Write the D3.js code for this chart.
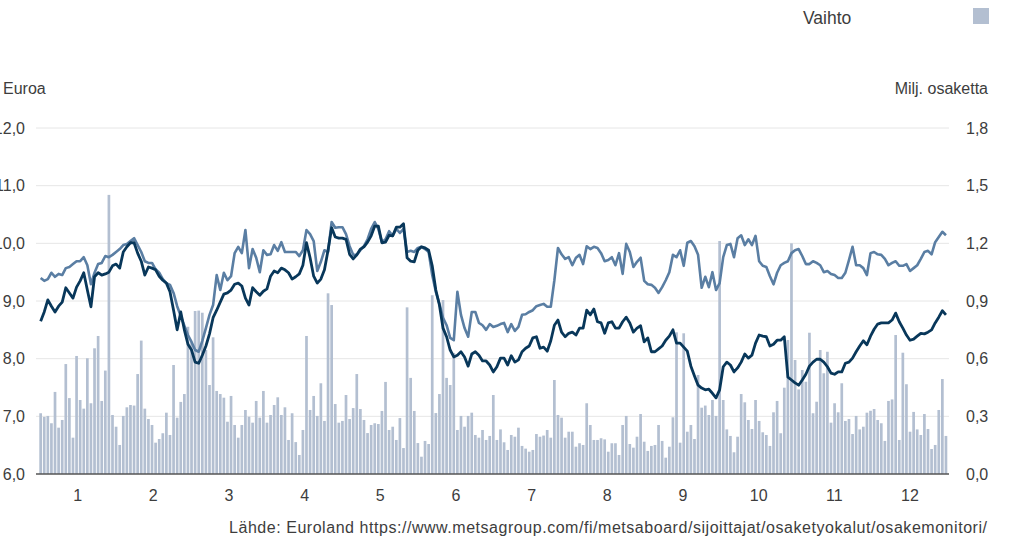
<!DOCTYPE html>
<html>
<head>
<meta charset="utf-8">
<script src="https://cdn.jsdelivr.net/npm/d3@7"></script>
<style>
  html, body { margin: 0; padding: 0; background: #fff; }
  svg { display: block; font-family: "Liberation Sans", Arial, sans-serif; }
</style>
</head>
<body>
<svg id="chart" width="1020" height="543"></svg>
<script>
// Daily closing prices (EUR), two share series
const priceB = [
  8.65,8.81,9.02,8.91,8.81,8.91,8.98,9.23,9.14,9.05,
  9.24,9.35,9.49,9.19,8.90,9.42,9.49,9.45,9.47,9.50,
  9.61,9.64,9.57,9.85,9.94,10.01,10.01,9.83,9.69,9.45,
  9.59,9.57,9.54,9.43,9.36,9.31,9.16,8.84,8.50,8.81,
  8.50,8.25,8.15,7.94,7.92,8.06,8.22,8.43,8.71,8.84,
  8.98,9.12,9.14,9.19,9.29,9.31,9.26,9.05,8.93,9.23,
  9.16,9.10,9.17,9.21,9.43,9.52,9.49,9.57,9.54,9.49,
  9.38,9.42,9.47,9.62,10.01,9.75,9.43,9.31,9.38,9.54,
  9.88,10.27,10.11,10.09,10.09,10.07,9.81,9.73,9.80,9.90,
  9.94,10.02,10.13,10.30,10.30,10.01,10.02,10.14,10.13,10.28,
  10.28,10.34,9.75,9.69,9.68,9.88,9.94,9.92,9.88,9.61,
  9.19,8.93,8.53,8.38,8.15,8.03,8.06,8.12,8.03,7.87,
  8.08,8.12,8.06,7.96,7.96,7.89,7.77,7.86,8.01,8.01,
  7.89,8.05,7.94,7.98,8.12,8.18,8.22,8.36,8.38,8.18,
  8.20,8.13,8.31,8.58,8.67,8.46,8.38,8.44,8.46,8.41,
  8.53,8.53,8.84,8.76,8.86,8.64,8.62,8.44,8.62,8.64,
  8.53,8.53,8.64,8.72,8.62,8.46,8.53,8.57,8.29,8.36,
  8.12,8.12,8.17,8.22,8.32,8.39,8.50,8.27,8.27,8.20,
  8.13,7.87,7.70,7.54,7.49,7.46,7.47,7.40,7.32,7.46,
  7.86,7.94,7.89,7.77,7.84,7.94,8.08,8.01,8.06,8.27,
  8.41,8.39,8.38,8.22,8.25,8.32,8.32,8.38,7.68,7.63,
  7.58,7.54,7.63,7.73,7.87,7.94,7.99,7.99,7.94,7.86,
  7.75,7.73,7.77,7.77,7.92,7.94,8.01,8.12,8.22,8.31,
  8.24,8.39,8.51,8.60,8.62,8.62,8.62,8.67,8.79,8.64,
  8.53,8.41,8.32,8.34,8.39,8.44,8.43,8.46,8.50,8.62,
  8.72,8.83,8.76
];

const priceA = [
  9.40,9.35,9.38,9.49,9.42,9.47,9.45,9.57,9.59,9.64,
  9.69,9.69,9.76,9.62,9.29,9.49,9.64,9.66,9.78,9.76,
  9.80,9.85,9.90,9.97,9.99,10.04,10.09,9.97,9.85,9.69,
  9.66,9.66,9.55,9.49,9.38,9.31,9.28,9.14,8.91,8.74,
  8.57,8.41,8.29,8.15,8.12,8.31,8.53,8.76,8.93,9.45,
  9.19,9.49,9.36,9.43,9.83,9.94,9.83,10.23,9.57,9.90,
  9.75,9.50,9.88,9.80,9.81,9.97,9.87,10.02,9.85,9.85,
  9.85,9.85,9.78,9.88,10.23,10.16,10.04,9.52,9.68,9.88,
  9.85,10.37,10.27,10.28,10.28,10.16,9.95,9.80,9.80,9.88,
  9.95,10.07,10.25,10.37,10.25,10.02,10.07,10.21,10.13,10.25,
  10.18,10.25,9.85,9.87,9.85,9.92,9.94,9.90,9.85,9.45,
  9.16,8.95,8.71,8.58,8.36,8.32,9.16,8.76,8.53,8.38,
  8.81,8.81,8.62,8.58,8.50,8.60,8.55,8.57,8.60,8.62,
  8.46,8.60,8.48,8.55,8.76,8.77,8.81,8.84,8.91,8.93,
  8.95,8.90,8.90,9.36,9.92,9.81,9.73,9.76,9.62,9.75,
  9.80,9.64,9.95,9.90,9.94,9.92,9.83,9.69,9.71,9.76,
  9.62,9.83,9.47,9.99,9.85,9.59,9.68,9.75,9.35,9.29,
  9.28,9.23,9.14,9.24,9.36,9.50,9.80,9.76,9.88,9.61,
  10.01,10.04,9.95,9.80,9.23,9.42,9.24,9.50,9.19,9.31,
  9.76,9.97,9.99,9.76,10.09,10.14,9.97,10.07,9.97,10.13,
  9.69,9.61,9.59,9.43,9.29,9.49,9.62,9.66,9.69,9.83,
  9.88,9.90,9.78,9.64,9.64,9.69,9.66,9.62,9.50,9.52,
  9.47,9.45,9.40,9.40,9.49,9.71,9.94,9.62,9.62,9.57,
  9.45,9.83,9.85,9.81,9.80,9.73,9.62,9.66,9.69,9.61,
  9.61,9.64,9.52,9.57,9.62,9.73,9.85,9.87,9.81,10.02,
  10.11,10.20,10.14
];

// Daily trading volume (million shares)
const volume = [
  0.316,0.297,0.302,0.264,0.427,0.241,0.281,0.572,0.395,0.189,
  0.614,0.385,0.340,0.602,0.368,0.654,0.718,0.380,0.538,1.452,
  0.307,0.246,0.151,0.302,0.347,0.359,0.356,0.520,0.694,0.340,
  0.286,0.255,0.163,0.182,0.212,0.319,0.203,0.567,0.293,0.375,
  0.416,0.766,0.688,0.848,0.850,0.839,0.645,0.463,0.711,0.432,
  0.416,0.397,0.272,0.406,0.255,0.189,0.255,0.333,0.298,0.267,
  0.380,0.293,0.432,0.267,0.307,0.359,0.399,0.307,0.347,0.177,
  0.316,0.166,0.099,0.229,0.718,0.333,0.406,0.302,0.472,0.276,
  0.940,0.879,0.364,0.267,0.276,0.411,0.286,0.343,0.520,0.338,
  0.281,0.213,0.255,0.264,0.260,0.328,0.479,0.229,0.246,0.177,
  0.291,0.135,0.867,0.500,0.328,0.161,0.090,0.172,0.156,0.930,
  0.317,0.416,0.905,0.500,0.463,0.630,0.229,0.302,0.246,0.302,
  0.319,0.203,0.189,0.229,0.177,0.198,0.411,0.177,0.232,0.165,
  0.125,0.203,0.194,0.241,0.146,0.132,0.116,0.125,0.208,0.194,
  0.200,0.229,0.189,0.489,0.307,0.293,0.189,0.220,0.220,0.142,
  0.160,0.151,0.368,0.255,0.177,0.177,0.186,0.180,0.116,0.160,
  0.160,0.099,0.255,0.302,0.156,0.137,0.194,0.312,0.168,0.120,
  0.146,0.151,0.255,0.172,0.085,0.142,0.295,0.737,0.163,0.732,
  0.220,0.255,0.182,0.515,0.345,0.356,0.307,0.385,0.302,1.212,
  0.385,0.232,0.198,0.113,0.194,0.416,0.373,0.281,0.234,0.385,
  0.276,0.217,0.203,0.146,0.321,0.380,0.212,0.449,0.697,1.200,
  0.593,0.440,0.541,0.480,0.735,0.316,0.376,0.645,0.524,0.636,
  0.267,0.368,0.321,0.472,0.276,0.286,0.208,0.302,0.232,0.246,
  0.319,0.329,0.338,0.281,0.264,0.172,0.380,0.388,0.723,0.177,
  0.631,0.467,0.220,0.323,0.232,0.203,0.312,0.234,0.130,0.151,
  0.333,0.494,0.198
];

const monthLabels = ["1","2","3","4","5","6","7","8","9","10","11","12"];
const priceTicks = [6, 7, 8, 9, 10, 11, 12];
const volumeTicks = [0, 0.3, 0.6, 0.9, 1.2, 1.5, 1.8];

const svg = d3.select("#chart");
const plotLeft = 39.3, plotRight = 947.3, plotTop = 128, plotBottom = 474;
const gridLeft = 36, gridRight = 949;

const x = d3.scaleBand()
  .domain(d3.range(volume.length))
  .range([plotLeft, plotRight])
  .paddingInner(0.25);
const xMonth = d3.scaleLinear().domain([0, 12]).range([plotLeft, plotRight]);
const yPrice = d3.scaleLinear().domain([6, 12]).range([plotBottom, plotTop]);
const yVol = d3.scaleLinear().domain([0, 1.8]).range([plotBottom, plotTop]);
const fmt = v => d3.format(".1f")(v).replace(".", ",");

const textColor = "#3d3d3d";

// horizontal grid
svg.append("g")
  .selectAll("line")
  .data(priceTicks.slice(1))
  .join("line")
  .attr("x1", gridLeft).attr("x2", gridRight)
  .attr("y1", d => yPrice(d)).attr("y2", d => yPrice(d))
  .attr("stroke", "#e6e6e6").attr("stroke-width", 1);

// volume bars
svg.append("g")
  .selectAll("rect")
  .data(volume)
  .join("rect")
  .attr("x", (d, i) => x(i))
  .attr("y", d => yVol(d))
  .attr("width", x.bandwidth())
  .attr("height", d => plotBottom - yVol(d))
  .attr("fill", "#b3bfd1");

// price lines
const line = d3.line()
  .x((d, i) => x(i) + x.bandwidth() / 2)
  .y(d => yPrice(d));

svg.append("path")
  .datum(priceA)
  .attr("d", line)
  .attr("fill", "none")
  .attr("stroke", "#5a7ea3")
  .attr("stroke-width", 2.6)
  .attr("stroke-linejoin", "round");

svg.append("path")
  .datum(priceB)
  .attr("d", line)
  .attr("fill", "none")
  .attr("stroke", "#08375a")
  .attr("stroke-width", 2.8)
  .attr("stroke-linejoin", "round");

// baseline
svg.append("line")
  .attr("x1", gridLeft).attr("x2", gridRight)
  .attr("y1", plotBottom).attr("y2", plotBottom)
  .attr("stroke", "#555").attr("stroke-width", 1.3);

// axes
function styleAxis(g) {
  g.select(".domain").remove();
  g.selectAll("text").attr("fill", textColor).style("font-size", "16px")
    .style("font-family", '"Liberation Sans", Arial, sans-serif');
}

svg.append("g")
  .attr("transform", `translate(${gridLeft},0)`)
  .call(d3.axisLeft(yPrice).tickValues(priceTicks).tickFormat(fmt).tickSize(0).tickPadding(11))
  .call(styleAxis);

svg.append("g")
  .attr("transform", `translate(${gridRight},0)`)
  .call(d3.axisRight(yVol).tickValues(volumeTicks).tickFormat(fmt).tickSize(0).tickPadding(17))
  .call(styleAxis);

svg.append("g")
  .attr("transform", `translate(0,${plotBottom})`)
  .call(d3.axisBottom(xMonth)
    .tickValues(monthLabels.map((m, i) => i + 0.5))
    .tickFormat((d, i) => monthLabels[i])
    .tickSize(0).tickPadding(16))
  .call(styleAxis);

// axis titles
svg.append("text").attr("x", 3).attr("y", 94)
  .attr("fill", textColor).style("font-size", "16px").text("Euroa");
svg.append("text").attr("x", 988).attr("y", 94).attr("text-anchor", "end")
  .attr("fill", textColor).style("font-size", "16px").text("Milj. osaketta");

// legend
svg.append("text").attr("x", 803).attr("y", 24)
  .attr("fill", textColor).style("font-size", "17.5px").text("Vaihto");
svg.append("rect").attr("x", 973).attr("y", 8).attr("width", 16).attr("height", 16)
  .attr("fill", "#b3bfd1");

// source
svg.append("text").attr("x", 987).attr("y", 533).attr("text-anchor", "end")
  .attr("fill", textColor).style("font-size", "16px")
  .attr("textLength", 758).attr("lengthAdjust", "spacing")
  .text("Lähde: Euroland https://www.metsagroup.com/fi/metsaboard/sijoittajat/osaketyokalut/osakemonitori/");
</script>
</body>
</html>
